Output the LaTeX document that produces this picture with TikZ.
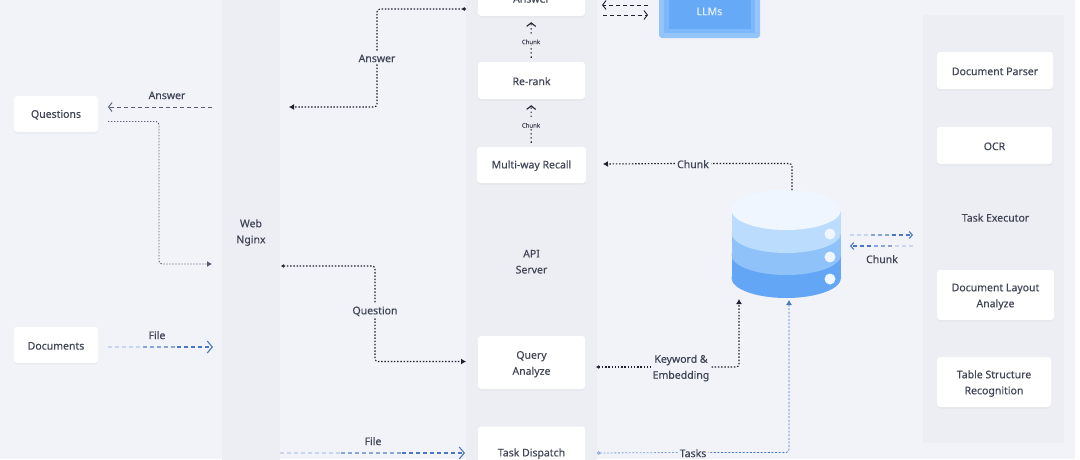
\documentclass[tikz,border=0pt]{standalone}
\usepackage{fontspec}
\setmainfont[FakeBold=0.25]{Noto Sans}
\usetikzlibrary{arrows.meta,calc,scopes,shadows}
\definecolor{bgc}{HTML}{F1F3F8}
\definecolor{colc}{HTML}{EDEEF3}
\definecolor{txtc}{HTML}{404556}
\definecolor{dkc}{HTML}{1E2230}
\definecolor{grc}{HTML}{565D75}
\definecolor{blc}{HTML}{4A78C0}
\definecolor{llma}{HTML}{93C5FB}
\definecolor{llmb}{HTML}{7DB9FA}
\definecolor{llmc}{HTML}{66A9F7}
\definecolor{llmt}{HTML}{E6F2FF}
\tikzset{
  >={Latex[length=5pt,width=6pt]},
  opn/.tip={Straight Barb[length=3.5pt,width=9pt]},
  opb/.tip={Straight Barb[length=5pt,width=12pt]},
  ops/.tip={Straight Barb[length=3pt,width=7pt]},
  sml/.tip={Latex[length=3pt,width=4pt]},
  rng/.tip={Circle[open,length=3.5pt,width=3.5pt]},
  tx/.style={text=txtc, font=\fontsize{10.5}{16}\selectfont, align=center, inner sep=2pt, execute at begin node={\rule{0pt}{9.3pt}}},
  ml/.style={execute at begin node={\rule{0pt}{27pt}}},
  tn/.style={tx, font=\fontsize{6}{7}\selectfont, inner sep=1pt, execute at begin node={}},
  bx/.style={tx, fill=white, rounded corners=3pt, minimum width=#1, drop shadow={opacity=0.07, shadow xshift=0pt, shadow yshift=-1.5pt}},
  cl/.style={fill=colc, minimum width=#1, minimum height=428pt, inner sep=0pt},
  ly/.style={fill=#1, inner sep=0pt},
  dk/.style={draw=dkc, line width=1.1pt, dash pattern=on 1.5pt off 1.7pt, rounded corners=3pt},
  dc/.style={draw=dkc, line width=1.1pt, dash pattern=on 1.5pt off 2.6pt},
  gd/.style={draw=grc, line width=.9pt, dash pattern=on 1.4pt off 1.6pt, rounded corners=3pt},
  gs/.style={draw=grc, line width=.9pt, dash pattern=on 4pt off 3pt},
  kd/.style={draw=dkc, line width=.9pt, dash pattern=on 4pt off 3pt},
  bl/.style={line width=1.1pt, dash pattern=on 4pt off 3pt},
  bd/.style={draw=blc, line width=.8pt, dash pattern=on 2pt off 1.6pt, rounded corners=3pt}
}
% blue dashed line, paler at its start
\newcommand{\bluedash}[3]{
  \draw[bl, blc!30] (#1) -- ($(#1)!.33!(#2)$);
  \draw[bl, blc!65] ($(#1)!.33!(#2)$) -- ($(#1)!.66!(#2)$);
  \draw[bl, blc, -#3] ($(#1)!.66!(#2)$) -- (#2);
}

\begin{document}
\begin{tikzpicture}[x=1pt, y=-1pt]
  \useasboundingbox (0,0) rectangle (1080,459);
  \clip (0,0) rectangle (1080,459);
  \fill[white] (0,0) rectangle (1080,459);
  \fill[bgc] (0,0) rectangle (1075,459);

  % columns
  \node[cl=58pt, minimum height=480pt] (web) at (251,230) {};
  \node[cl=131pt, minimum height=480pt] (api) at (531.5,230) {};
  \node[cl=141pt] (ex) at (993.5,229) {};
  \node[tx, ml] (webt) at (251,231) {Web\\Nginx};
  \node[tx, ml] (apit) at (531.5,260) {API\\Server};
  \node[tx] (ext) at (995.5,217) {Task Executor};

  % boxes
  \node[bx=84pt, minimum height=36pt] (qs) at (56,114) {Questions};
  \node[bx=84pt, minimum height=36pt] (docs) at (56,345) {Documents};
  \node[bx=107pt, minimum height=36pt] (ans) at (531.5,-2) {Answer};
  \node[bx=107pt, minimum height=37pt] (rr) at (531.5,80.5) {Re-rank};
  \node[bx=109pt, minimum height=36pt] (mr) at (531.5,165) {Multi-way Recall};
  \node[bx=107pt, ml, minimum height=53pt] (qa) at (531.5,362.5) {Query\\Analyze};
  \node[bx=107pt, minimum height=53pt] (td) at (531.5,453) {Task Dispatch};
  \node[bx=116pt, minimum height=37pt] (dp) at (995,70.5) {Document Parser};
  \node[bx=115pt, minimum height=37pt] (ocr) at (994.5,145.5) {OCR};
  \node[bx=117pt, ml, minimum height=50pt] (dl) at (995.5,295) {Document Layout\\Analyze};
  \node[bx=114pt, ml, minimum height=50pt] (ts) at (994,382) {Table Structure\\Recognition};

  % llms
  \node[ly=llma, minimum width=101pt, minimum height=58pt, rounded corners=3pt] (llma) at (709.5,9) {};
  \node[ly=llmb, minimum width=91pt, minimum height=53pt] (llmb) at (709.5,6.5) {};
  \node[ly=llmc, minimum width=82pt, minimum height=49pt] (llmc) at (709.5,4.5) {};
  \node[tx, text=llmt] (llmn) at (709.5,10.5) {LLMs};

  % database
  \foreach \ya/\yb/\fc in {255/278/63A6F5, 233/255/90C2FA, 210/233/BCDCFD}{
    \definecolor{lay}{HTML}{\fc}
    \fill[lay] (731.5,\ya) rectangle (841,\yb);
    \fill[lay] (786.25,\yb) ellipse [x radius=54.75pt, y radius=20pt];
  }
  \definecolor{lay}{HTML}{EFF6FF}
  \fill[lay] (786.25,210) ellipse [x radius=54.75pt, y radius=20pt];
  \foreach \yc in {234,257,279}
    \fill[lay] (830,\yc) circle [radius=5.5pt];
  \coordinate (dbt) at (792,190);
  \coordinate (dbk) at (739,299);
  \coordinate (dbb) at (789,300);

  % free ends
  \coordinate (an1) at (466,9);
  \coordinate (an2) at (289,107);
  \coordinate (qw1) at (212,107);
  \coordinate (qw2) at (108,107);
  \coordinate (qn1) at (108,121.5);
  \coordinate (qn2) at (212,264);
  \coordinate (fl1) at (108,347);
  \coordinate (fl2) at (213,347);
  \coordinate (qu1) at (281,266);
  \coordinate (qu2) at (466,361.5);
  \coordinate (fd1) at (280,453);
  \coordinate (fd2) at (465,453);
  \coordinate (ll1) at (648,5);
  \coordinate (ll2) at (602,5);
  \coordinate (ll3) at (603,15);
  \coordinate (ll4) at (648,15);
  \coordinate (ch1) at (603,164);
  \coordinate (ke1) at (596,367);
  \coordinate (tk1) at (597,453);
  \coordinate (cu1) at (850,235);
  \coordinate (cu2) at (913,235);
  \coordinate (cu3) at (913,246);
  \coordinate (cu4) at (850,246);

  % labels
  \node[tx] (lan) at (377,57.5) {Answer};
  \node[tx] (lqw) at (167,94.5) {Answer};
  \node[tx] (lfl) at (157,334.5) {File};
  \node[tx] (lqu) at (375,310.5) {Question};
  \node[tx] (lfd) at (373,440.5) {File};
  \node[tn] (lc1) at (531,39.5) {Chunk};
  \node[tn] (lc2) at (531,123) {Chunk};
  \node[tx] (lch) at (693,163.5) {Chunk};
  \node[tx, ml] (lke) at (681,366.5) {Keyword \&\\Embedding};
  \node[tx] (ltk) at (693,452.5) {Tasks};
  \node[tx] (lcu) at (882,258.5) {Chunk};

  {[dk]
    \draw[rng-] (an1) -| (lan.north);
    \draw[->] (lan.south) |- (an2);
    \draw[sml-] (qu1) -| (lqu.north);
    \draw[->] (lqu.south) |- (qu2);
    \draw (dbt) |- (lch.east);
    \draw[->] (lch.west) -- (ch1);
    \draw[sml-] (ke1) -- (lke.west |- ke1);
    \draw[->] (lke.east |- ke1) -| (dbk);
  }
  {[dc]
    \draw[shorten <=4pt] (rr) -- (lc1);
    \draw[shorten <=4pt] (mr) -- (lc2);
    \draw[shorten >=6pt, -opn] (lc1) -- (ans);
    \draw[shorten >=6pt, -opn] (lc2) -- (rr);
  }
  \draw[gs, -opn] (qw1) -- (qw2);
  \draw[gd, ->] (qn1) -| ($(qn1)!.49!(qn2)$) |- (qn2);
  {[kd, -opn]
    \draw (ll1) -- (ll2);
    \draw (ll3) -- (ll4);
  }
  \bluedash{fl1}{fl2}{opb}
  \bluedash{fd1}{fd2}{opb}
  \bluedash{cu1}{cu2}{ops}
  \bluedash{cu3}{cu4}{ops}
  \draw[bd, <-] (dbb) |- (ltk.east);
  \draw[bd, draw=blc!70, -rng] (ltk.west) -- (tk1);
\end{tikzpicture}
\end{document}
